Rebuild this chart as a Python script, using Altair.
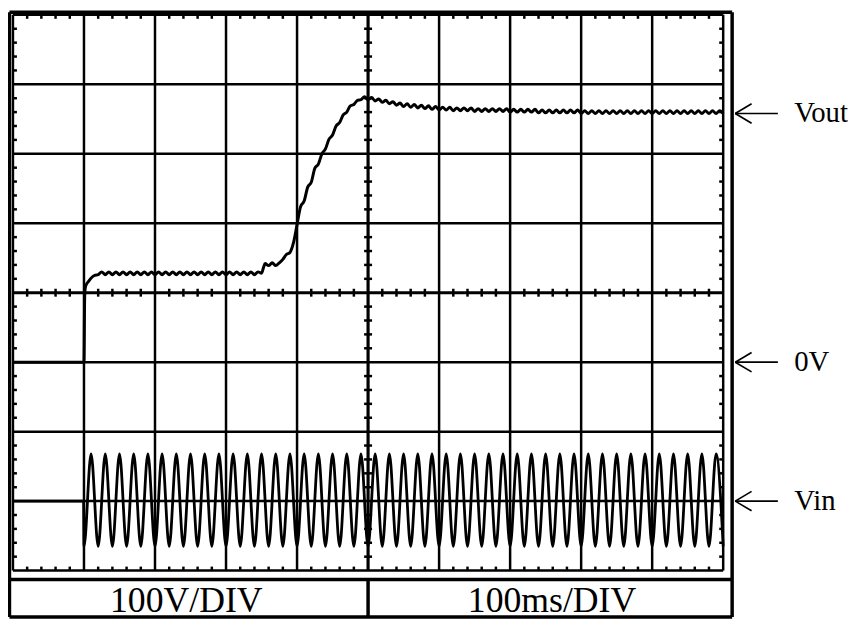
import altair as alt
import pandas as pd

# ---------------- data ----------------
# time in ms (100 ms/div), voltage in V (100 V/div)
vout_t = [0, 100, 101, 102, 104, 107, 110, 115,
          120, 125, 130, 135, 140, 145, 150, 155, 160, 165, 170, 175, 180, 185, 190, 195,
          200, 205, 210, 215, 220, 225, 230, 235, 240, 245, 250, 255, 260, 265, 270, 275, 280, 285, 290, 295,
          300, 305, 310, 315, 320, 325, 330, 335, 340, 345,
          350, 353, 355, 360, 365, 370, 375, 380, 385, 390, 395,
          400, 405, 410, 415, 420, 425, 430, 435, 440, 445, 450, 455, 460, 465, 470, 475, 480, 485, 490, 495,
          500, 505, 510, 515, 520, 525, 530, 535, 540, 545, 550, 555, 560, 565, 570, 575, 580, 585, 590, 595,
          600, 605, 610, 615, 620, 625, 630, 635, 640, 645, 650, 655, 660, 665, 670, 675, 680, 685, 690, 695,
          700, 705, 710, 715, 720, 725, 730, 735, 740, 745, 750, 755, 760, 765, 770, 775, 780, 785, 790, 795,
          800, 805, 810, 815, 820, 825, 830, 835, 840, 845, 850, 855, 860, 865, 870, 875, 880, 885, 890, 895,
          900, 905, 910, 915, 920, 925, 930, 935, 940, 945, 950, 955, 960, 965, 970, 975, 980, 985, 990, 995,
          1000]
vout_v = [0, 0, 95, 108, 113, 117, 121, 125,
          126, 130, 126, 130, 126, 130, 126, 130, 126, 130, 126, 130, 126, 130, 126, 130,
          126, 130, 126, 130, 126, 130, 126, 130, 126, 130, 126, 130, 126, 130, 126, 130, 126, 130, 126, 130,
          126, 130, 126, 130, 126, 130, 126, 130, 126, 130,
          128, 137, 142, 139, 143, 139, 143, 148, 155, 158, 172,
          198, 224, 232, 252, 259, 279, 285, 300, 307, 321, 327, 340, 345, 356, 360, 369, 371, 377, 378, 382,
          378, 381, 376, 379, 374, 377, 372, 375, 370, 373, 368, 372, 367, 371, 366, 370, 365, 369, 364, 368,
          363, 367, 363, 367, 362, 366, 362, 366, 362, 366, 361, 365, 361, 365, 361, 365, 361, 365, 361, 365,
          360, 364, 360, 364, 360, 364, 360, 364, 359, 363, 359, 363, 359, 363, 359, 363, 359, 363, 359, 363,
          358, 362, 358, 362, 358, 362, 358, 362, 358, 362, 358, 362, 358, 362, 358, 362, 358, 362, 358, 362,
          358, 362, 358, 362, 358, 362, 358, 362, 358, 362, 358, 362, 358, 362, 358, 362, 358, 362, 358, 362,
          358]

vin_t = [0, 99.5,
         100, 110, 120, 130, 140, 150, 160, 170, 180, 190,
         200, 210, 220, 230, 240, 250, 260, 270, 280, 290,
         300, 310, 320, 330, 340, 350, 360, 370, 380, 390,
         400, 410, 420, 430, 440, 450, 460, 470, 480, 490,
         500, 510, 520, 530, 540, 550, 560, 570, 580, 590,
         600, 610, 620, 630, 640, 650, 660, 670, 680, 690,
         700, 710, 720, 730, 740, 750, 760, 770, 780, 790,
         800, 810, 820, 830, 840, 850, 860, 870, 880, 890,
         900, 910, 920, 930, 940, 950, 960, 970, 980, 990,
         1000]
vin_v = [0, 0,
         -65, 68, -65, 68, -65, 68, -65, 68, -65, 68,
         -65, 68, -65, 68, -65, 68, -65, 68, -65, 68,
         -65, 68, -65, 68, -65, 68, -65, 68, -65, 68,
         -65, 68, -65, 68, -65, 68, -65, 68, -65, 68,
         -65, 68, -65, 68, -65, 68, -65, 68, -65, 68,
         -65, 68, -65, 68, -65, 68, -65, 68, -65, 68,
         -65, 68, -65, 68, -65, 68, -65, 68, -65, 68,
         -65, 68, -65, 68, -65, 68, -65, 68, -65, 68,
         -65, 68, -65, 68, -65, 68, -65, 68, -65, 68,
         -65]

# graticule (10 x 8 divisions) and minor ticks (5 per division)
grid_t = [0, 100, 200, 300, 400, 500, 600, 700, 800, 900, 1000]
grid_v = [-400, -300, -200, -100, 0, 100, 200, 300, 400]
minor_t = [20, 40, 60, 80, 120, 140, 160, 180, 220, 240, 260, 280, 320, 340, 360, 380,
           420, 440, 460, 480, 520, 540, 560, 580, 620, 640, 660, 680, 720, 740, 760, 780,
           820, 840, 860, 880, 920, 940, 960, 980]
minor_v = [-380, -360, -340, -320, -280, -260, -240, -220, -180, -160, -140, -120,
           -80, -60, -40, -20, 20, 40, 60, 80, 120, 140, 160, 180,
           220, 240, 260, 280, 320, 340, 360, 380]

# channel markers on the right
marker_labels = ["Vout", "0V", "Vin"]
marker_levels = [258, -100, -300]
bottom_labels = ["100V/DIV", "100ms/DIV"]
bottom_label_t = [244, 759]

# channel screen positions (screen units, 100 per division)
VOUT_POS = -100
VIN_POS = -300

# ---------------- geometry / style ----------------
W, H = 717, 561
TX = 5.6   # 4 px in ms
TY = 5.7   # 4 px in screen units
FRAME_L, FRAME_R, FRAME_T, FRAME_B, SEP = -4.9, 1012.6, 403.6, -467, -412.8

xs = alt.Scale(domain=[0, 1000], nice=False, zero=False)
ys = alt.Scale(domain=[-400, 400], nice=False, zero=False)


def rules(rows, width, color="black"):
    df = pd.DataFrame(rows, columns=["x", "x2", "y", "y2"])
    return alt.Chart(df).mark_rule(color=color, strokeWidth=width, strokeCap="butt").encode(
        x=alt.X("x:Q", scale=xs, axis=None),
        x2="x2:Q",
        y=alt.Y("y:Q", scale=ys, axis=None),
        y2="y2:Q",
    )


grid_rows = [(t, t, -400, 400) for t in grid_t if t != 500] + \
            [(0, 1000, v, v) for v in grid_v if v != 0]
center_rows = [(500, 500, -400, 400), (0, 1000, 0, 0)]
tick_rows = ([(t, t, -TY, TY) for t in minor_t] +
             [(500 - TX, 500 + TX, v, v) for v in minor_v] +
             [(t, t, 400, 400 - TY) for t in minor_t] +
             [(t, t, -400, -400 + TY) for t in minor_t] +
             [(0, TX, v, v) for v in minor_v] +
             [(1000, 1000 - TX, v, v) for v in minor_v])
frame_rows = [(FRAME_L, FRAME_L, FRAME_T, FRAME_B), (FRAME_R, FRAME_R, FRAME_T, FRAME_B),
              (FRAME_L, FRAME_R, FRAME_T, FRAME_T), (FRAME_L, FRAME_R, FRAME_B, FRAME_B),
              (FRAME_L, FRAME_R, SEP, SEP), (500, 500, SEP, FRAME_B)]
arrow_rows = []
for lv in marker_levels:
    arrow_rows += [(1017, 1077, lv, lv), (1017, 1040, lv, lv + 14), (1017, 1040, lv, lv - 14)]

vout_df = pd.DataFrame({"t": vout_t, "v": vout_v})
vout_df["scr"] = vout_df["v"] + VOUT_POS
vin_df = pd.DataFrame({"t": vin_t, "v": vin_v})
vin_df["scr"] = vin_df["v"] + VIN_POS

vout_line = alt.Chart(vout_df).mark_line(color="black", strokeWidth=3.0, interpolate="monotone").encode(
    x=alt.X("t:Q", scale=xs, axis=None), y=alt.Y("scr:Q", scale=ys, axis=None))
vin_line = alt.Chart(vin_df).mark_line(color="black", strokeWidth=2.8, interpolate="monotone").encode(
    x=alt.X("t:Q", scale=xs, axis=None), y=alt.Y("scr:Q", scale=ys, axis=None))

mk_df = pd.DataFrame({"label": marker_labels, "lv": marker_levels, "x": [1100] * 3})
mk_text = alt.Chart(mk_df).mark_text(font="Liberation Serif", fontSize=29, align="left",
                                     baseline="middle", color="black").encode(
    x=alt.X("x:Q", scale=xs, axis=None), y=alt.Y("lv:Q", scale=ys, axis=None), text="label:N")

bl_df = pd.DataFrame({"label": bottom_labels, "t": bottom_label_t, "y": [-460, -460]})
bl_text = alt.Chart(bl_df).mark_text(font="Liberation Serif", fontSize=36, align="center",
                                     baseline="alphabetic", color="black").encode(
    x=alt.X("t:Q", scale=xs, axis=None), y=alt.Y("y:Q", scale=ys, axis=None), text="label:N")

chart = alt.layer(
    rules(grid_rows, 2.5),
    rules(center_rows, 3.2),
    rules(tick_rows, 2.5),
    vin_line,
    vout_line,
    rules(frame_rows, 3.5),
    rules(arrow_rows, 1.7),
    mk_text,
    bl_text,
).properties(
    width=W, height=H,
    autosize=alt.AutoSizeParams(type="none"),
    padding={"left": 5, "top": 4, "right": 126, "bottom": 49},
    background="white",
).configure_view(stroke=None)

chart.save("out.html", embed_options={"renderer": "svg", "actions": False})
